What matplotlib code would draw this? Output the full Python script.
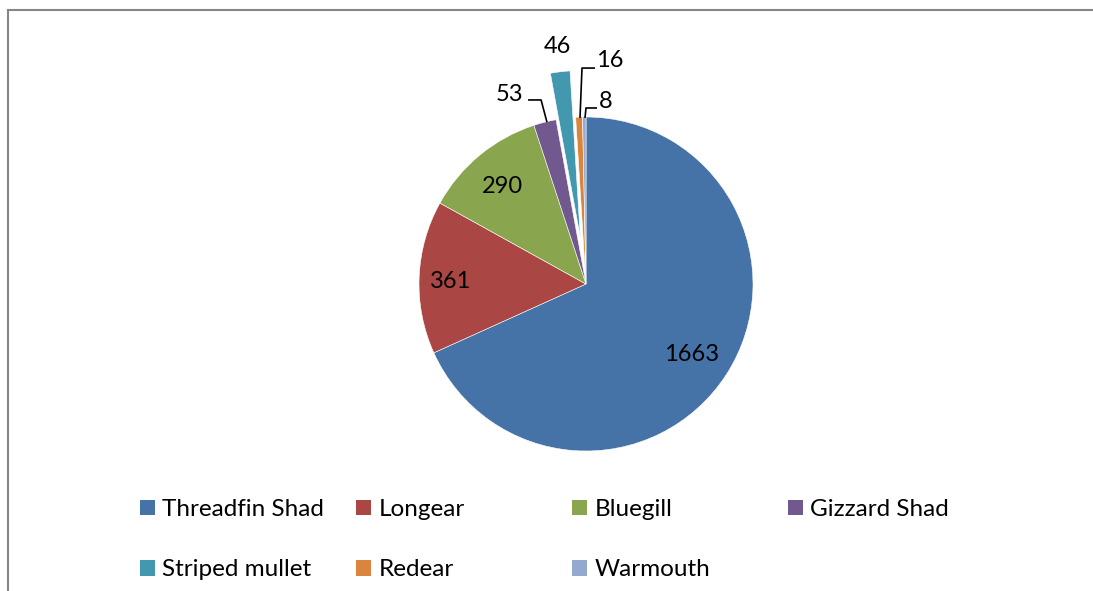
import matplotlib
matplotlib.use("Agg")
import matplotlib.pyplot as plt
from matplotlib.patches import Patch
from matplotlib.lines import Line2D

plt.rcParams["font.family"] = ["Lato", "DejaVu Sans"]

# Data
species = ["Threadfin Shad", "Longear", "Bluegill", "Gizzard Shad",
           "Striped mullet", "Redear", "Warmouth"]
counts = [1663, 361, 290, 53, 46, 16, 8]
colors = ["#4572A7", "#AA4643", "#89A54E", "#71588F",
          "#4198AF", "#DB843D", "#93A9CF"]
explode = [0, 0, 0, 0, 0.28, 0, 0]

W, H = 1093, 591
fig = plt.figure(figsize=(W / 100, H / 100), dpi=100)
ax = fig.add_axes([0, 0, 1, 1])

ax.pie(counts, colors=colors, startangle=90, counterclock=False,
       explode=explode, radius=1, center=(0, 0),
       wedgeprops=dict(edgecolor="white", linewidth=0.4))

# pie center and radius in pixels -> axis limits
cx, cy, r = 586, 284, 167
ax.set_xlim(-cx / r, (W - cx) / r)
ax.set_ylim(-(H - cy) / r, cy / r)
ax.set_aspect("equal", adjustable="datalim")
ax.axis("off")

# value labels (placed as in the original)
label_pos = {
    1663: (0.635, -0.425),
    361: (-0.808, 0.012),
    290: (-0.503, 0.581),
    53: (-0.46, 1.132),
    46: (-0.171, 1.425),
    16: (0.141, 1.341),
    8: (0.120, 1.090),
}
for v in counts:
    x, y = label_pos[v]
    ax.text(x, y, str(v), ha="center", va="center", fontsize=17, color="black")

# leader lines
leaders = [
    ([-0.347, -0.269, -0.234], [1.102, 1.102, 0.970]),
    ([0.054, -0.024, -0.036], [1.293, 1.293, 0.994]),
    ([0.066, 0.0, -0.006], [1.054, 1.054, 0.994]),
]
for xs, ys in leaders:
    ax.plot(xs, ys, color="black", lw=1.2, solid_capstyle="butt")

# legend: four columns, two rows
col_x = [140, 356, 572, 788]
for i, x in enumerate(col_x):
    handles = []
    for j in (i, i + 4):
        if j < len(species):
            handles.append(Patch(facecolor=colors[j], edgecolor="none",
                                 label=species[j]))
    fig.legend(handles=handles, loc="upper left",
               bbox_to_anchor=(x / W, 1 - 499 / H),
               frameon=False, fontsize=17.5, handlelength=0.62,
               handleheight=0.62, handletextpad=0.3, labelspacing=1.62,
               borderpad=0, borderaxespad=0)

# chart frame (top and left borders visible)
fig.add_artist(Line2D([8 / W, 8 / W], [0, 1 - 10 / H], color="#868686",
                      lw=1.5, transform=fig.transFigure))
fig.add_artist(Line2D([8 / W, 1], [1 - 10 / H, 1 - 10 / H], color="#868686",
                      lw=1.5, transform=fig.transFigure))

fig.savefig("out.png", dpi=100, facecolor="white")
